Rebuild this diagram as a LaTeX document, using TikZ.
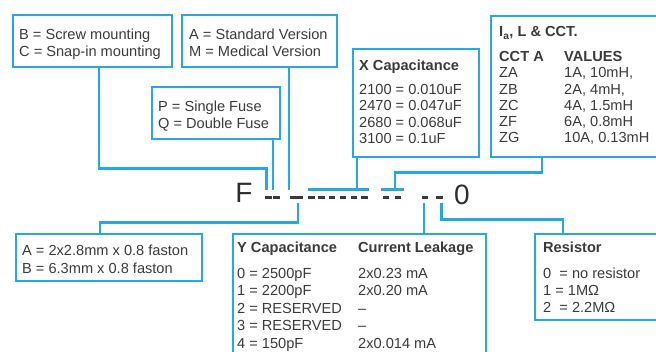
\documentclass[tikz,border=0pt]{standalone}
\usepackage{xcolor}
\usepackage{fontspec}
\setmainfont{Liberation Sans}
\usetikzlibrary{calc}
\definecolor{azul}{HTML}{29A8E0}
\definecolor{tinta}{HTML}{3A3A3A}
\newcommand{\pilha}[1]{\begin{tabular}[t]{@{}l@{}}#1\end{tabular}}
\tikzset{
  quadro/.style={draw=azul, line width=2.6pt, inner sep=0pt},
  fio/.style={azul, line width=2.6pt},
  txt/.style={anchor=base west, inner sep=0pt, text=tinta,
              font=\fontsize{14.6}{17}\selectfont},
  traco/.style={fill=tinta, minimum width=6.5pt, minimum height=3pt, inner sep=0pt},
  grande/.style={anchor=base, inner sep=0pt, text=tinta!80!black,
                 font=\fontsize{28}{30}\selectfont},
}

\begin{document}
\begin{tikzpicture}[x=1pt,y=-1pt]
    \useasboundingbox (0,0) rectangle (656,352);
    \clip (0,0) rectangle (656,352);

    %% ---------- caixas de cima ----------
    \node[quadro, minimum width=159, minimum height=52] (bxMont) at (92.5,41) {};
    \node[quadro, minimum width=155, minimum height=52] (bxVer)  at (259.5,41) {};
    \node[quadro, minimum width=128, minimum height=52] (bxFus)  at (216,113) {};
    \node[quadro, minimum width=126, minimum height=108] (bxXc)  at (416,103) {};
    \node[quadro, minimum width=181, minimum height=141] (bxIa)  at (581.5,86.5) {};

    \node[txt] (tMont) at (19,39.5)  {\pilha{B = Screw mounting\\C = Snap-in mounting}};
    \node[txt] (tVer)  at (189,39.5) {\pilha{A = Standard Version\\M = Medical Version}};
    \node[txt] (tFus)  at (158,111.5) {\pilha{P = Single Fuse\\Q = Double Fuse}};
    \node[txt, font=\fontsize{14.6}{16.3}\selectfont] (tXc) at (359,70.5)
      {\pilha{\textbf{X Capacitance}\\[7.7pt]2100 = 0.010uF\\2470 = 0.047uF\\2680 = 0.068uF\\3100 = 0.1uF}};
    \node[txt] (tIa) at (499,37) {\textbf{I\textsubscript{a}, L \& CCT.}};
    \node[txt, font=\fontsize{14.6}{16.3}\selectfont] (tCct) at (499,61.5)
      {\pilha{\textbf{CCT A}\\ZA\\ZB\\ZC\\ZF\\ZG}};
    \node[txt, font=\fontsize{14.6}{16.3}\selectfont] (tVal) at (564,61.5)
      {\pilha{\textbf{VALUES}\\1A, 10mH,\\2A, 4mH,\\4A, 1.5mH\\6A, 0.8mH\\10A, 0.13mH}};

    %% ---------- codigo ----------
    \node[grande] (cF) at (244,203) {F};
    \node[grande] (c0) at (462,205) {0};
    \foreach \x [count=\i] in {268.5,276.5,293,299.5,311.5,321.5,332,343,354,364.5,386,398,425,439.5}
      \node[traco] (d\i) at (\x,198) {};

    %% ---------- caixas de baixo ----------
    \node[quadro, minimum width=186, minimum height=47]  (bxFast) at (109,257.5) {};
    \node[quadro, minimum width=253, minimum height=138] (bxYc)   at (359.5,303) {};
    \node[quadro, minimum width=137, minimum height=86]  (bxRes)  at (603.5,277) {};

    \node[txt, font=\fontsize{14.6}{18}\selectfont] (tFast) at (22,255.5)
      {\pilha{A = 2x2.8mm x 0.8 faston\\B = 6.3mm x 0.8 faston}};
    \node[txt, font=\fontsize{14.6}{17.5}\selectfont] (tYc) at (237,252.5)
      {\pilha{\textbf{Y Capacitance}\\[8.5pt]0 = 2500pF\\1 = 2200pF\\2 = RESERVED\\3 = RESERVED\\4 = 150pF}};
    \node[txt, font=\fontsize{14.6}{17.5}\selectfont] (tLeak) at (358,252.5)
      {\pilha{\textbf{Current Leakage}\\[8.5pt]2x0.23 mA\\2x0.20 mA\\–\\–\\2x0.014 mA}};
    \node[txt] (tRes) at (543,252.5)
      {\pilha{\textbf{Resistor}\\[9pt]0\ \ = no resistor\\1 = 1MΩ\\2\ \ = 2.2MΩ}};

    %% ---------- ligacoes de cima ----------
    \draw[fio] ([xshift=6.5pt]bxMont.south) |- ($(d1.north)+(-2,-28)$) -- ($(d1.north)+(-2,-6)$);
    \draw[fio, shorten >=6pt] ([xshift=57pt]bxFus.south) -- ([xshift=57pt]bxFus.south |- d2.north);
    \draw[fio, shorten >=6pt] ([xshift=29.5pt]bxVer.south) -- ([xshift=29.5pt]bxVer.south |- d3.north);
    \coordinate (brX) at ($(d5.north west)+(0,-6.5)$);
    \draw[fio] (brX) -- ($(d10.north east)+(1.5,-6.5)$);
    \draw[fio] ([xshift=-59pt]bxXc.south) -- ([xshift=-59pt]bxXc.south |- brX);
    \coordinate (brI) at ($(d11.north west)+(-2,-6.5)$);
    \draw[fio] (brI) -- ($(d12.north east)+(3,-6.5)$);
    \draw[fio] ([xshift=-39.5pt]bxIa.south) |- ($(d11.north)+(9,-24)$) -- ($(d11.north)+(9,-6.5)$);

    %% ---------- ligacoes de baixo ----------
    \draw[fio] ([xshift=-9pt]bxFast.north) |- ($(d4.south)+(-1.5,23)$) -- ($(d4.south)+(-1.5,3)$);
    \draw[fio, shorten >=3pt] ([xshift=64.5pt]bxYc.north) -- ([xshift=64.5pt]bxYc.north |- d13.south);
    \draw[fio] ($(d14.south)+(2,3)$) |- ($(bxRes.north)+(-40.5,-13)$) -- ([xshift=-40.5pt]bxRes.north);

\end{tikzpicture}
\end{document}
